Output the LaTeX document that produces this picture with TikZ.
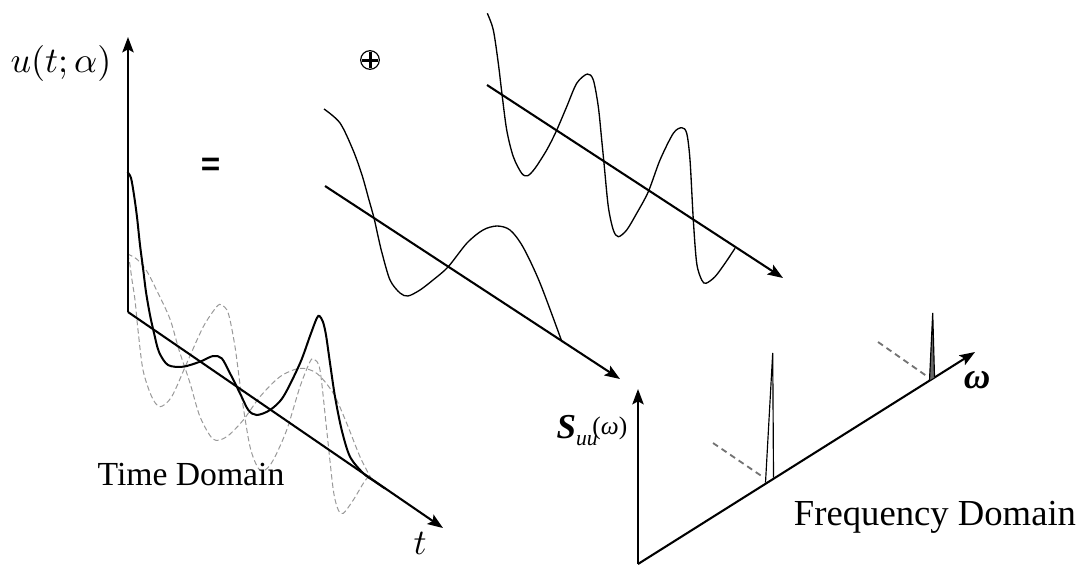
\RequirePackage{fix-cm}
\documentclass[tikz,border=0pt]{standalone}
\usepackage{fontspec}
\setmainfont{Liberation Serif}
\newfontfamily\sansfam{Liberation Sans}
\usetikzlibrary{arrows.meta}
\begin{document}
\begin{tikzpicture}[x=0.3pt,y=-0.3pt,
  axis/.style={line width=0.62pt,-{Stealth[length=4.6pt,width=3.4pt,inset=0.9pt]}},
  wave/.style={line width=0.4pt,smooth,tension=0.5},
  sumwave/.style={line width=0.6pt,smooth,tension=0.5},
  comp/.style={line width=0.3pt,smooth,tension=0.5,draw=black!40,dash pattern=on 1.6pt off 0.9pt},
  back/.style={line width=0.55pt,draw=black!55,dash pattern=on 1.8pt off 1.3pt},
  spike/.style={line width=0.35pt},
  lab/.style={inner sep=0pt}]
\useasboundingbox (0,0) rectangle (1079,564);

% coordinates of the axes
\coordinate (tO) at (128,312);
\coordinate (tY) at (128,37);
\coordinate (tT) at (443,528);
\coordinate (mA) at (325,186);
\coordinate (mB) at (620,379);
\coordinate (rA) at (487,85);
\coordinate (rB) at (783,278);
\coordinate (fO) at (638,564);
\coordinate (fY) at (638,389);
\coordinate (fW) at (975,352);

% ---------- time domain ----------
\draw[comp] plot coordinates {(127.5,254) (136.7,259) (146.7,271) (157,291) (170,319) (179,350) (190,383) (200,416.7) (213.3,439.3) (226.7,436.7) (243.3,420) (260,396.7) (280,376.7) (300,368.3) (316.7,373.3) (333.3,393.3) (346.7,423.3) (360,456.7) (372,480)};
\draw[comp] plot coordinates {(127.5,254) (129.5,262) (132,280) (135,300) (138,330) (143,370) (151.7,396.7) (160,406.7) (171.7,396.7) (186.7,363.3) (203.3,326.7) (216.7,306.7) (221.7,305) (228.3,313.3) (235,346.7) (241.7,396.7) (250,446.7) (258.3,468.3) (265,470) (273.3,460) (286.7,430) (300,386.7) (310,361.7) (314,359.3) (320,370) (326.7,430) (333.3,490) (338.3,510) (343.3,513.3) (353.3,500) (363.3,483.3) (368.3,476.7)};
\draw[sumwave] plot coordinates {(127.5,172) (131,178) (134,195) (137,217) (140,245) (143,268) (146,292) (150,315) (154,333) (159,352) (168,365) (183,366.7) (200,361.7) (213,356) (221.7,358.3) (230,373.3) (240,393.3) (248.3,410) (256.7,415) (270,410) (283.3,396.7) (300,363.3) (310,336) (316.7,318.3) (319.5,316) (323,322) (326,335) (330,363) (335,396.7) (341.7,430) (350,456.7) (363.3,473.3) (374,481) (385,488.5)};
\draw[axis] (tO) -- (tY);
\draw[axis] (tO) -- (tT);
\node[lab,font=\fontsize{10.8}{13}\selectfont] (ulab) at (61,63) {$u(t;\alpha)$};
\node[lab,font=\fontsize{10.8}{13}\selectfont] (tlab) at (420,543) {$t$};
\node[lab,anchor=base,font=\fontsize{10.1}{12}\selectfont] (tdom) at (191,485) {Time Domain};

% ---------- operators ----------
\node[lab,font=\sansfam\bfseries\fontsize{10}{10}\selectfont] (eq) at (210.5,167) {=};
\node[circle,draw,line width=0.35pt,minimum size=5.6pt,inner sep=0pt] (oplus) at (370,60) {};
\draw[line width=0.9pt] ([yshift=-0.6pt]oplus.north) -- ([yshift=0.6pt]oplus.south);
\draw[line width=0.9pt] ([xshift=0.6pt]oplus.west) -- ([xshift=-0.6pt]oplus.east);

% ---------- first component ----------
\draw[wave] plot coordinates {(324,109) (340,123) (353,150) (362,175) (369,200) (374,218) (378,236) (382,253) (390,280) (400,293) (408,296) (420,290) (433,280) (448,267) (467,243) (483,230) (497,226) (510,230) (523,247) (540,283) (562,342)};
\draw[axis] (mA) -- (mB);

% ---------- second component ----------
\draw[wave] plot coordinates {(487.3,13.3) (493.3,30) (498.3,63.3) (501.7,91.7) (506.7,130) (513.3,156.7) (521.7,173.3) (527.7,175.7) (535,168.3) (546.7,150) (556,131.7) (566.7,106.7) (576.7,83.3) (587.3,74) (593.3,80) (598.3,106.7) (601.7,140) (604,163.3) (608.3,206.7) (613.3,230) (618.3,236.7) (626.7,230) (636.7,213.3) (648.3,191.7) (660,160) (673.3,133.3) (681.7,127.7) (686.7,133.3) (690,160) (693.3,220) (696.7,263.3) (701.7,280) (706,283.3) (715,276.7) (725,263.3) (735,248.3)};
\draw[axis] (rA) -- (rB);

% ---------- frequency domain ----------
\draw[axis] (fO) -- (fY);
\draw[axis] (fO) -- (fW);
\coordinate (s1a) at (765.5,482.6);
\coordinate (s1t) at (772.7,353);
\coordinate (s1b) at (773.5,477.6);
\coordinate (s2a) at (929.5,380.2);
\coordinate (s2t) at (932.7,313);
\coordinate (s2b) at (934.5,377.3);
\draw[spike] (s1a) -- (s1t) -- (s1b);
\draw[spike,fill=black!60] (s2a) -- (s2t) -- (s2b);
\coordinate (d1a) at (713,443);
\coordinate (d1b) at (763,477);
\coordinate (d2a) at (878,342);
\coordinate (d2b) at (928,377);
\draw[back] (d1a) -- (d1b);
\draw[back] (d2a) -- (d2b);
\node[lab,anchor=base west] (slab) at (556,438) {\fontsize{10.5}{10}\selectfont\bfseries\itshape S\raisebox{-2.1pt}{\fontsize{6.5}{6.5}\selectfont\mdseries uu}\kern-1.6pt\raisebox{1.2pt}{\fontsize{7.6}{7.6}\selectfont\mdseries\upshape(\itshape ω\upshape)}};
\node[lab,font=\fontsize{11}{13}\selectfont\bfseries\itshape] (wlab) at (977,380) {ω};
\node[lab,anchor=base,font=\fontsize{11}{13}\selectfont] (fdom) at (935,525) {Frequency Domain};
\end{tikzpicture}
\end{document}
